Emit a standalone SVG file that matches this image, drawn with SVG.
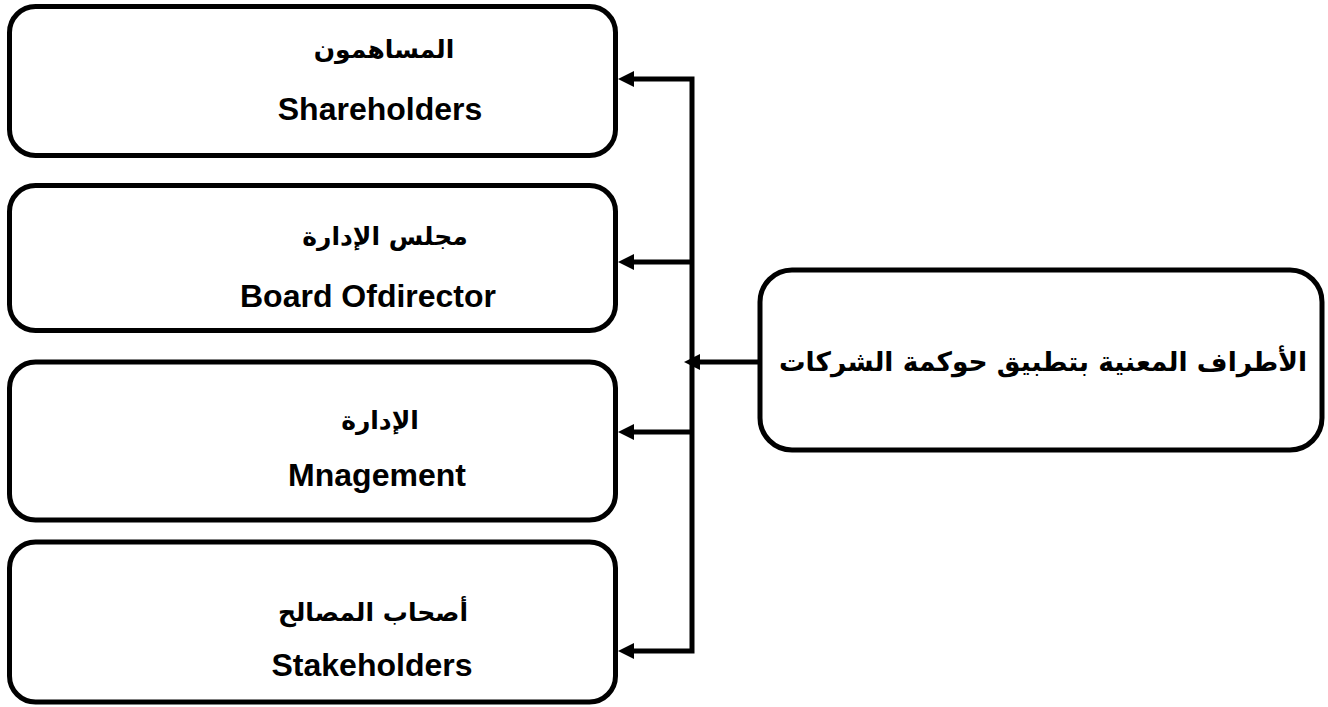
<svg xmlns="http://www.w3.org/2000/svg" width="1328" height="707" viewBox="0 0 1328 707">
<style>
.box{fill:#fff;stroke:#000;stroke-width:5}
.ar{font-family:'DejaVu Sans',sans-serif;font-weight:bold;font-size:25px;text-anchor:middle;direction:rtl}
.big{font-size:26.5px}
.en{font-family:'Liberation Sans',Arial,sans-serif;font-weight:bold;font-size:32px;text-anchor:middle}
.con{fill:none;stroke:#000;stroke-width:5;stroke-linejoin:miter}
</style>
<defs>
<marker id="ah" viewBox="0 0 16 16" markerWidth="16" markerHeight="16" refX="8" refY="8" orient="auto-start-reverse" markerUnits="userSpaceOnUse">
<path d="M0,0 L16,8 L0,16 z" fill="#000"/>
</marker>
</defs>
<rect width="1328" height="707" fill="#fff"/>
<g id="shareholders">
<rect class="box" x="9.5" y="6.5" width="606" height="149" rx="26"/>
<text class="ar" x="384" y="58">المساهمون</text>
<text class="en" x="380" y="120">Shareholders</text>
</g>
<g id="board">
<rect class="box" x="9.5" y="185.5" width="606" height="145" rx="26"/>
<text class="ar" x="385" y="245">مجلس الإدارة</text>
<text class="en" x="368" y="307">Board Ofdirector</text>
</g>
<g id="management">
<rect class="box" x="9.5" y="362" width="606" height="158" rx="26"/>
<text class="ar" x="380" y="429">الإدارة</text>
<text class="en" x="377" y="486">Mnagement</text>
</g>
<g id="stakeholders">
<rect class="box" x="9.5" y="542" width="606" height="160" rx="26"/>
<text class="ar" x="373" y="621">أصحاب المصالح</text>
<text class="en" x="372" y="676">Stakeholders</text>
</g>
<g id="parties">
<rect class="box" x="760" y="270" width="562" height="180" rx="32"/>
<text class="ar big" x="1043" y="371">الأطراف المعنية بتطبيق حوكمة الشركات</text>
</g>
<g id="connectors">
<path class="con" d="M626,79 H692 V651 H626" marker-start="url(#ah)" marker-end="url(#ah)"/>
<path class="con" d="M692,262 H626" marker-end="url(#ah)"/>
<path class="con" d="M692,432 H626" marker-end="url(#ah)"/>
<path class="con" d="M760,362 H692" marker-end="url(#ah)"/>
</g>
</svg>
